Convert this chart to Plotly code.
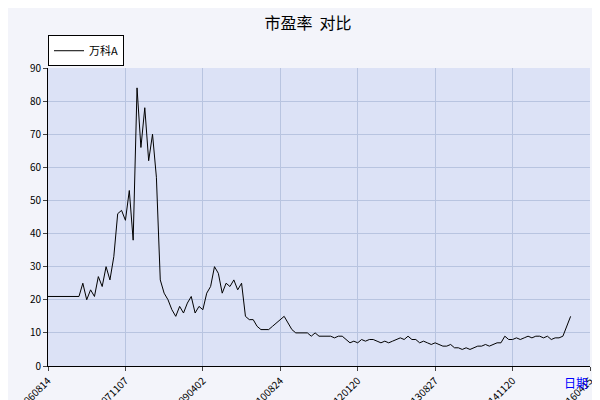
import plotly.graph_objects as go

tick_labels = ["20060814", "20071107", "20090402", "20100824", "20120120",
               "20130827", "20141120", "20160415"]
tick_pos = [0, 20, 40, 60, 80, 100, 120, 140]

pe = [21, 21, 21, 21, 21, 21, 21, 21, 21,
      25, 20, 23, 21, 27, 24, 30, 26, 33, 46, 47, 44, 53, 38, 84, 66, 78, 62, 70, 57,
      26, 22, 20, 17, 15, 18, 16, 19, 21, 16, 18, 17, 22, 24, 30, 28, 22, 25, 24, 26,
      23, 25, 15, 14, 14, 12, 11, 11, 11, 12, 13, 14, 15, 13, 11, 10, 10, 10, 10, 9,
      10, 9, 9, 9, 9, 8.5, 9, 9, 8, 7, 7.5, 7, 8, 7.5, 8, 8, 7.5, 7, 7.5, 7, 7.5, 8,
      8.5, 8, 9, 8, 8, 7, 7.5, 7, 6.5, 7, 6.5, 6, 6, 6.5, 5.5, 5.5, 5, 5.5, 5, 5.5, 6,
      6, 6.5, 6, 6.5, 7, 7, 9, 8, 8, 8.5, 8, 8.5, 9, 8.5, 9, 9, 8.5, 9, 8, 8.5, 8.5,
      9, 12, 15]
idx = list(range(len(pe)))

fig = go.Figure()
fig.add_trace(go.Scatter(x=idx, y=pe, mode="lines", name="万科A",
                         line=dict(color="black", width=1)))

fig.update_layout(
    width=600, height=400,
    margin=dict(l=40, r=18, t=60, b=42, autoexpand=False),
    paper_bgcolor="#F3F4FA", plot_bgcolor="#DCE2F6",
    font=dict(family="Noto Sans CJK SC", size=10, color="black"),
    title=dict(text="市盈率  对比", x=0.5, y=0.975, xanchor="center",
               font=dict(size=16)),
    showlegend=True,
    legend=dict(x=0.0, y=1.11, xanchor="left", yanchor="top",
                bgcolor="white", bordercolor="black", borderwidth=1,
                font=dict(size=11), itemwidth=30),
)
fig.update_xaxes(range=[0, 140], tickvals=tick_pos, ticktext=tick_labels,
                 tickangle=-45, showgrid=True, gridcolor="#B8C4E0",
                 showline=True, linecolor="black", ticks="outside",
                 ticklen=4, zeroline=False, automargin=False)
fig.update_yaxes(range=[0, 90], dtick=10, showgrid=True, gridcolor="#B8C4E0",
                 showline=True, linecolor="black", ticks="outside",
                 ticklen=4, zeroline=False, automargin=False)
fig.add_annotation(text="日期", xref="paper", yref="paper", x=1.0, y=-0.09,
                   showarrow=False, font=dict(color="blue", size=12))

fig.write_html("out.html")
